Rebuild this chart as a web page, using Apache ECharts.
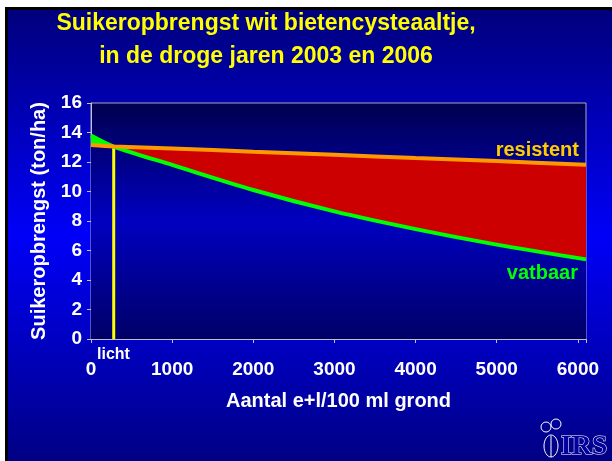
<!DOCTYPE html>
<html>
<head>
<meta charset="utf-8">
<script src="https://cdn.jsdelivr.net/npm/echarts@6/dist/echarts.min.js"></script>
<style>
  html, body { margin: 0; padding: 0; background: #fff; }
  #chart { width: 612px; height: 461px; }
</style>
</head>
<body>
<div id="chart"></div>
<script>
// aantal e+l/100 ml grond
const xVals = [0, 280, 1000, 2000, 3000, 4000, 5000, 6100];
// suikeropbrengst (ton/ha)
const vatbaar = [13.8, 13.05, 11.8, 10.1, 8.65, 7.45, 6.4, 5.4];
const resistent = [13.15, 13.05, 12.92, 12.7, 12.49, 12.27, 12.06, 11.82];
const lichtX = 280;
const lichtY = 13.05;
const xTicks = [0, 1000, 2000, 3000, 4000, 5000, 6000];

const chart = echarts.init(document.getElementById('chart'));

const pair = (arr) => xVals.map((x, i) => [x, arr[i]]);
// onderste lijn: daaronder wordt de plotachtergrond weer teruggezet
const lower = xVals.map((x, i) => [x, Math.min(vatbaar[i], resistent[i])]);

const font = 'Liberation Sans, Arial, sans-serif';
const smooth = 0.3;
const plotTop = 103, plotBottom = 339;
const plotStops = [
  { offset: 0, color: '#00004f' },
  { offset: 0.5, color: '#0000c0' },
  { offset: 1, color: '#000068' }
];
const plotFill = () => new echarts.graphic.LinearGradient(0, plotTop, 0, plotBottom, plotStops, true);

chart.setOption({
  animation: false,
  grid: {
    left: 91, right: 26, top: plotTop, bottom: 461 - plotBottom,
    show: true,
    borderColor: '#a8a8c8',
    borderWidth: 1
  },
  xAxis: {
    type: 'value',
    min: 0,
    max: 6100,
    interval: 1000,
    axisLine: { lineStyle: { color: '#c0c0d0' } },
    axisTick: { show: true, length: 4, lineStyle: { color: '#c0c0d0' } },
    splitLine: { show: false },
    axisLabel: {
      color: '#fff', fontSize: 19, fontWeight: 'bold', fontFamily: font, margin: 21,
      formatter: v => xTicks.indexOf(v) >= 0 ? String(v) : ''
    },
    name: 'Aantal e+l/100 ml grond',
    nameLocation: 'middle',
    nameGap: 52,
    nameTextStyle: { color: '#fff', fontSize: 20, fontWeight: 'bold', fontFamily: font }
  },
  yAxis: {
    type: 'value',
    min: 0,
    max: 16,
    interval: 2,
    axisLine: { show: true, lineStyle: { color: '#c0c0d0' } },
    axisTick: { show: true, length: 4, lineStyle: { color: '#c0c0d0' } },
    splitLine: { show: false },
    axisLabel: { color: '#fff', fontSize: 19, fontWeight: 'bold', fontFamily: font, margin: 9 },
    name: 'Suikeropbrengst (ton/ha)',
    nameLocation: 'middle',
    nameGap: 41,
    nameTextStyle: { color: '#fff', fontSize: 20, fontWeight: 'bold', fontFamily: font }
  },
  graphic: [
    { type: 'rect', z: -30, shape: { x: 5, y: 7, width: 607, height: 454 }, style: { fill: '#000' } },
    {
      type: 'rect', z: -29, shape: { x: 8, y: 10, width: 604, height: 451 },
      style: {
        fill: new echarts.graphic.LinearGradient(0, 0, 0, 1, [
          { offset: 0, color: '#00007c' },
          { offset: 0.5, color: '#0000f8' },
          { offset: 1, color: '#000084' }
        ])
      }
    },
    {
      type: 'rect', z: -28, shape: { x: 91, y: plotTop, width: 495, height: plotBottom - plotTop },
      style: { fill: plotFill() }
    },
    {
      type: 'text', x: 266, y: 24, z: 10,
      style: { text: 'Suikeropbrengst wit bietencysteaaltje,', fill: '#ffff00', font: 'bold 23px ' + font, align: 'center', verticalAlign: 'middle' }
    },
    {
      type: 'text', x: 266, y: 57, z: 10,
      style: { text: 'in de droge jaren 2003 en 2006', fill: '#ffff00', font: 'bold 23px ' + font, align: 'center', verticalAlign: 'middle' }
    },
    {
      type: 'text', x: 579, y: 150, z: 10,
      style: { text: 'resistent', fill: '#ffcc00', font: 'bold 20px ' + font, align: 'right', verticalAlign: 'middle' }
    },
    {
      type: 'text', x: 578, y: 273, z: 10,
      style: { text: 'vatbaar', fill: '#00ff00', font: 'bold 20px ' + font, align: 'right', verticalAlign: 'middle' }
    },
    {
      type: 'text', x: 97, y: 355, z: 10,
      style: { text: 'licht', fill: '#fff', font: 'bold 16px ' + font, align: 'left', verticalAlign: 'middle' }
    },
    // IRS logo
    {
      type: 'text', x: 584, y: 447, z: 10,
      style: { text: 'IRS', fill: '#0000a0', stroke: '#fff', lineWidth: 1, font: 'bold 28px Liberation Serif, serif', align: 'center', verticalAlign: 'middle' }
    },
    { type: 'ellipse', z: 10, shape: { cx: 551, cy: 446, rx: 7, ry: 11 }, style: { fill: 'none', stroke: '#fff', lineWidth: 1 } },
    { type: 'line', z: 10, shape: { x1: 551, y1: 436, x2: 551, y2: 457 }, style: { stroke: '#fff', lineWidth: 1 } },
    { type: 'circle', z: 10, shape: { cx: 546, cy: 427, r: 5 }, style: { fill: 'none', stroke: '#fff', lineWidth: 1 } },
    { type: 'circle', z: 10, shape: { cx: 556, cy: 424, r: 5 }, style: { fill: 'none', stroke: '#fff', lineWidth: 1 } }
  ],
  series: [
    // groen gebied waar vatbaar boven resistent ligt
    {
      name: 'vatbaar-vlak', type: 'line', data: pair(vatbaar), smooth: smooth, z: 1,
      symbol: 'none', lineStyle: { width: 0 }, areaStyle: { color: '#00ff00', opacity: 1 }, silent: true
    },
    // rood gebied onder resistent
    {
      name: 'resistent-vlak', type: 'line', data: pair(resistent), smooth: smooth, z: 1,
      symbol: 'none', lineStyle: { width: 0 }, areaStyle: { color: '#cc0000', opacity: 1 }, silent: true
    },
    // achtergrond terug onder de laagste lijn
    {
      name: 'onder', type: 'line', data: lower, smooth: smooth, z: 1,
      symbol: 'none', lineStyle: { width: 0 }, areaStyle: { color: plotFill(), opacity: 1 }, silent: true
    },
    {
      name: 'licht', type: 'line', data: [[lichtX, 0], [lichtX, lichtY]],
      symbol: 'none', lineStyle: { color: '#ffff00', width: 3 }, z: 3
    },
    {
      name: 'vatbaar', type: 'line', data: pair(vatbaar), smooth: smooth,
      symbol: 'none', lineStyle: { color: '#00ff00', width: 4 }, z: 4
    },
    {
      name: 'resistent', type: 'line', data: pair(resistent), smooth: smooth,
      symbol: 'none', lineStyle: { color: '#ff9900', width: 4 }, z: 5
    }
  ]
});
</script>
</body>
</html>
